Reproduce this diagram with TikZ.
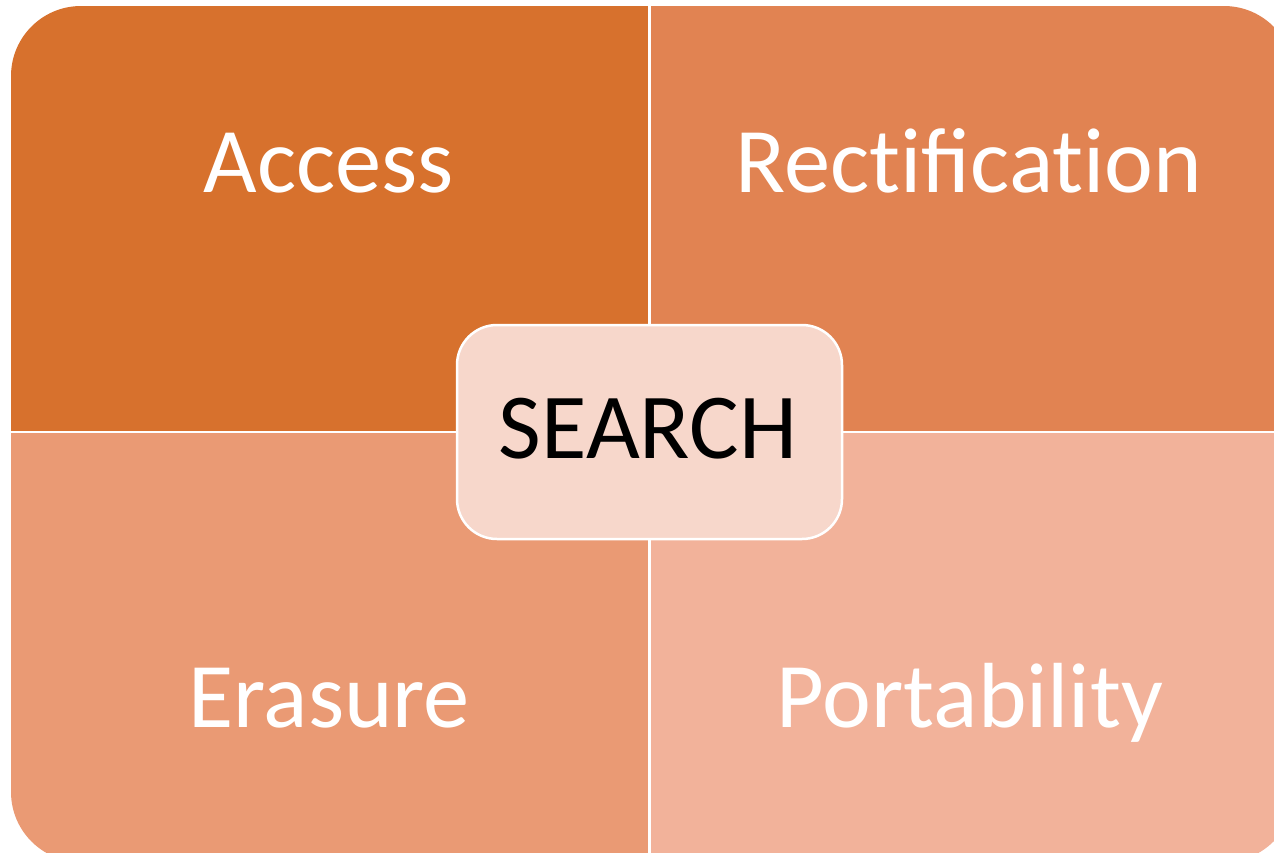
\documentclass[tikz,border=0pt]{standalone}
\usepackage{fontspec}
\setmainfont{Carlito}
\definecolor{qa}{HTML}{D7712D}
\definecolor{qb}{HTML}{E18352}
\definecolor{qc}{HTML}{EA9A74}
\definecolor{qd}{HTML}{F2B29A}
\definecolor{qcenter}{HTML}{F7D7CB}
\begin{document}
\begin{tikzpicture}[x=1pt,y=-1pt,
  quadlabel/.style={anchor=base,text=white,font=\fontsize{92.5}{100}\selectfont,inner sep=0pt},
  centerbox/.style={draw=white,line width=2.5pt,fill=qcenter,rounded corners=40pt,minimum width=385pt,minimum height=214pt,inner sep=0pt}]
\useasboundingbox (0,0) rectangle (1274,852);
\begin{scope}
  \clip (0,0) rectangle (1274,852);
  \clip[rounded corners=70pt] (11,6) rectangle (1294,862);
  \fill[qa] (11,6) rectangle (649.5,432);
  \fill[qb] (649.5,6) rectangle (1294,432);
  \fill[qc] (11,432) rectangle (649.5,862);
  \fill[qd] (649.5,432) rectangle (1294,862);
  \draw[white,line width=2.5pt] (649.5,0) -- (649.5,862);
  \draw[white,line width=2pt] (0,432) -- (1294,432);
\end{scope}
\node[quadlabel] (access) at (329,192) {Access};
\node[quadlabel] (rect) at (969,192) {Rect\kern0pt ificat\kern0pt ion};
\node[quadlabel] (erasure) at (329,727) {Erasure};
\node[quadlabel] (port) at (970,727) {Portability};
\node[centerbox] (center) at (649.5,432) {};
\node[anchor=base,text=black,font=\fontsize{93}{100}\selectfont,inner sep=0pt] (search) at (648,458) {SEARCH};
\end{tikzpicture}
\end{document}
